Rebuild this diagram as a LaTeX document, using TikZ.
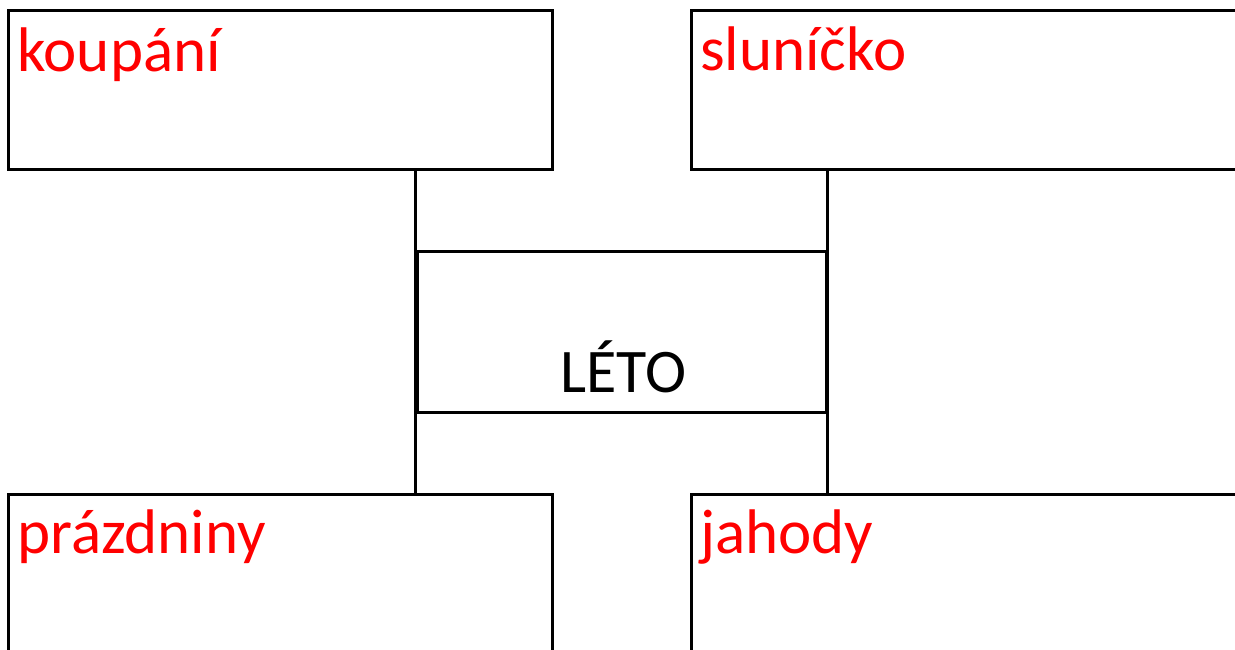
\documentclass[tikz,border=0pt]{standalone}
\usepackage{fontspec}
\setmainfont{Carlito}
\usetikzlibrary{positioning}
\tikzset{
  x=1pt,y=-1pt,
  wordbox/.style={draw=black,line width=3pt,minimum width=544pt,
    minimum height=159pt,inner sep=0pt},
  wideword/.style={wordbox,minimum width=560pt},
  wordlbl/.style={anchor=base west,text=red,inner sep=0pt,
    font=\fontsize{63}{75}\selectfont},
  hubbox/.style={draw=black,line width=3pt,minimum width=409pt,
    minimum height=161pt,inner sep=0pt},
  hubline/.style={line width=3pt,black},
  hublbl/.style={anchor=base,inner sep=0pt,font=\fontsize{62}{74}\selectfont},
}
\begin{document}
\begin{tikzpicture}
  \useasboundingbox (0,0) rectangle (1235,650);
  \node[wordbox] (koupani) at (280,90.5) {};
  \node[wideword] (slunicko) at (971.5,90.5) {};
  \node[wordbox] (prazdniny) at (280,574) {};
  \node[wideword] (jahody) at (971.5,574) {};
  \node[hubbox] (leto) at (621.5,331.5) {};
  \node[wordlbl] (koupanilbl) at (17,72) {koupání};
  \node[wordlbl] (slunickolbl) at (700,71) {sluníčko};
  \node[wordlbl] (prazdninylbl) at (17,553) {prázdniny};
  \node[wordlbl] (jahodylbl) at (700,553) {jahody};
  \node[hublbl] (letolbl) at (623.5,392) {LÉTO};
  % spojnice
  \draw[hubline] (koupani.south -| leto.west) -- (prazdniny.north -| leto.west);
  \draw[hubline] (slunicko.south -| leto.east) -- (jahody.north -| leto.east);
\end{tikzpicture}
\end{document}
